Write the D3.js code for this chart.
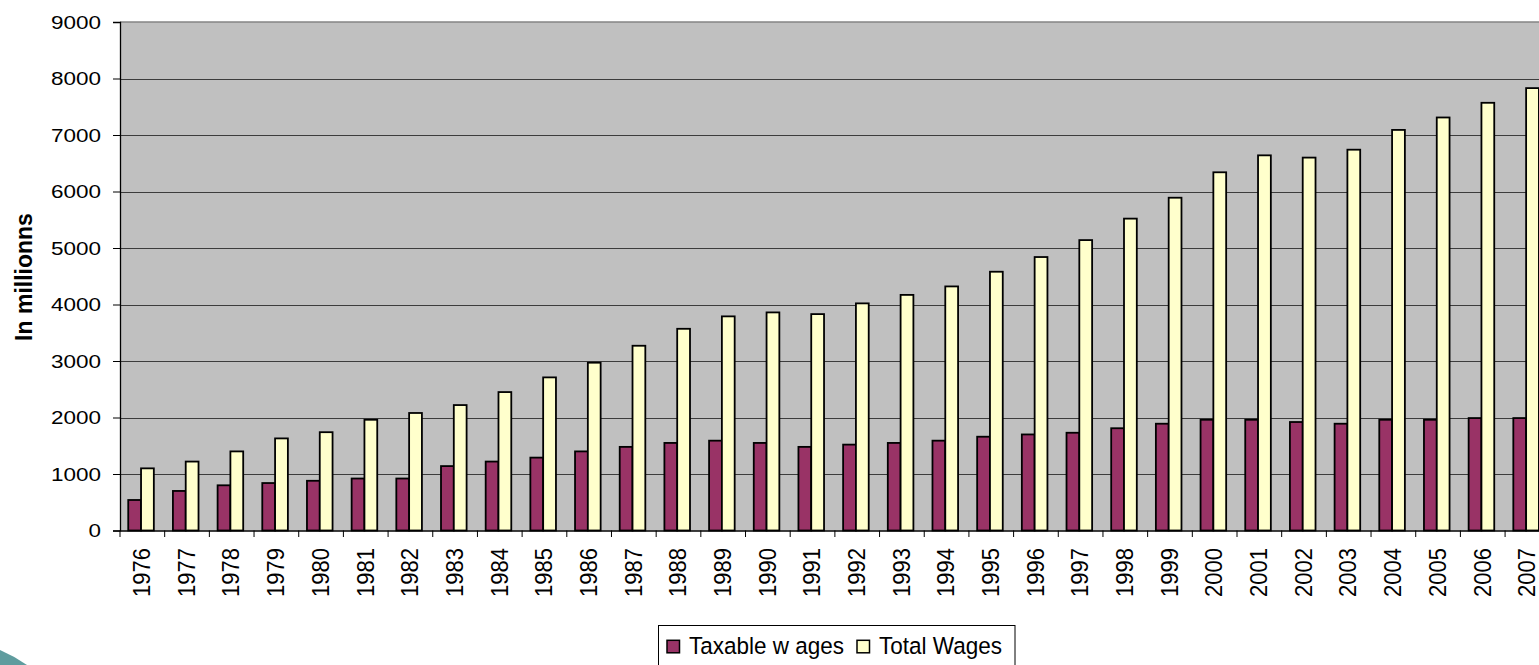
<!DOCTYPE html>
<html>
<head>
<meta charset="utf-8">
<script src="https://cdn.jsdelivr.net/npm/d3@7"></script>
<style>
  html, body { margin: 0; padding: 0; background: #ffffff; }
  svg { display: block; font-family: "Liberation Sans", Arial, sans-serif; }
</style>
</head>
<body>
<svg id="chart" width="1539" height="665"></svg>
<script>
const years = ["1976","1977","1978","1979","1980","1981","1982","1983","1984","1985","1986","1987","1988","1989","1990","1991","1992","1993","1994","1995","1996","1997","1998","1999","2000","2001","2002","2003","2004","2005","2006","2007"];
const taxableWages = [540, 700, 800, 840, 880, 920, 920, 1140, 1220, 1290, 1400, 1480, 1550, 1590, 1550, 1480, 1520, 1550, 1590, 1660, 1700, 1730, 1810, 1890, 1960, 1960, 1920, 1890, 1960, 1960, 1990, 1990];
const totalWages = [1100, 1220, 1400, 1630, 1740, 1960, 2080, 2220, 2450, 2710, 2970, 3270, 3570, 3790, 3860, 3830, 4020, 4170, 4320, 4580, 4840, 5140, 5520, 5890, 6340, 6640, 6600, 6740, 7090, 7310, 7570, 7830];
const seriesNames = ["Taxable w ages", "Total Wages"];
const seriesColors = ["#993366", "#FFFFCC"];
const yTicks = [0, 1000, 2000, 3000, 4000, 5000, 6000, 7000, 8000, 9000];
const yTitle = "In millionns";

const seriesValues = [taxableWages, totalWages];
const svg = d3.select("#chart");

const plotLeft = 120, plotTop = 22, plotBottom = 530.5;
const step = 44.68;
const plotRight = plotLeft + step * years.length;

const x = d3.scaleBand().domain(years).range([plotLeft, plotRight]).padding(0);
const y = d3.scaleLinear().domain([0, 9000]).range([plotBottom, plotTop]);
const pairWidth = 25.6;
const xInner = d3.scaleBand().domain(d3.range(seriesNames.length)).range([0, pairWidth]).padding(0);
const pairOffset = (x.bandwidth() - pairWidth) / 2 - 1.3;

// decoration at bottom-left
svg.append("path")
  .attr("d", "M0,650 Q14,656 27,665 L0,665 Z")
  .attr("fill", "#5f9c9e");

// plot background
svg.append("rect")
  .attr("x", plotLeft).attr("y", plotTop)
  .attr("width", plotRight - plotLeft).attr("height", plotBottom - plotTop)
  .attr("fill", "#C0C0C0");

// gridlines
svg.append("g").selectAll("line")
  .data(yTicks.filter(d => d > 0 && d < 9000))
  .join("line")
  .attr("x1", plotLeft).attr("x2", plotRight)
  .attr("y1", d => Math.round(y(d)) + 0.5).attr("y2", d => Math.round(y(d)) + 0.5)
  .attr("stroke", "#3c3c3c").attr("stroke-width", 1);

// top border
svg.append("line")
  .attr("x1", plotLeft).attr("x2", plotRight)
  .attr("y1", y(9000)).attr("y2", y(9000))
  .attr("stroke", "#858585").attr("stroke-width", 1.6);

// bars
const barGroups = svg.append("g").selectAll("g")
  .data(years)
  .join("g")
  .attr("transform", d => `translate(${x(d) + pairOffset},0)`);

barGroups.selectAll("rect")
  .data((d, i) => seriesValues.map((vals, s) => ({ s, v: vals[i] })))
  .join("rect")
  .attr("x", d => xInner(d.s))
  .attr("width", xInner.bandwidth())
  .attr("y", d => y(d.v))
  .attr("height", d => y(0) - y(d.v))
  .attr("fill", d => seriesColors[d.s])
  .attr("stroke", "#000")
  .attr("stroke-width", 1.8);

// y axis
const yAxis = d3.axisLeft(y).tickValues(yTicks).tickSize(7).tickPadding(12).tickFormat(d3.format("d"));
const gy = svg.append("g").attr("transform", `translate(${plotLeft},0)`).call(yAxis);
gy.select(".domain").attr("stroke", "#000").attr("stroke-width", 1.3);
gy.selectAll(".tick line").attr("stroke", "#000").attr("stroke-width", 1);
gy.selectAll(".tick text")
  .attr("font-family", "Liberation Sans, Arial, sans-serif")
  .attr("font-size", 17.7)
  .attr("fill", "#000")
  .attr("x", -19)
  .attr("dy", "0.36em")
  .attr("textLength", d => String(d).length * 12.5)
  .attr("lengthAdjust", "spacingAndGlyphs");

// x axis
const xAxis = d3.axisBottom(x).tickSize(0).tickFormat("");
const gx = svg.append("g").attr("transform", `translate(0,${plotBottom})`).call(xAxis);
gx.select(".domain").attr("stroke", "#000").attr("stroke-width", 1.3);
// category separator ticks
svg.append("g").selectAll("line")
  .data(d3.range(years.length + 1))
  .join("line")
  .attr("x1", i => plotLeft + i * x.step()).attr("x2", i => plotLeft + i * x.step())
  .attr("y1", plotBottom).attr("y2", plotBottom + 6.5)
  .attr("stroke", "#000").attr("stroke-width", 1);

// year labels
svg.append("g").selectAll("text")
  .data(years)
  .join("text")
  .attr("transform", d => `translate(${x(d) + x.bandwidth() / 2 - 0.8},548) rotate(-90) scale(1,1.08)`)
  .attr("text-anchor", "end")
  .attr("dy", "0.36em")
  .attr("font-size", 22)
  .attr("fill", "#000")
  .text(d => d);

// y title
svg.append("text")
  .attr("transform", "translate(32,277) rotate(-90)")
  .attr("text-anchor", "middle")
  .attr("font-size", 23)
  .attr("font-weight", "bold")
  .attr("fill", "#000")
  .text(yTitle);

// legend
const legend = svg.append("g");
legend.append("rect")
  .attr("x", 658.5).attr("y", 625.5).attr("width", 356.5).attr("height", 60)
  .attr("fill", "#fff").attr("stroke", "#000").attr("stroke-width", 1);
const legendItems = [
  { marker: 667, textX: 689, len: 155 },
  { marker: 857, textX: 879, len: 123 }
];
legend.selectAll("g.item")
  .data(seriesNames)
  .join("g").attr("class", "item")
  .each(function (name, i) {
    const g = d3.select(this);
    g.append("rect")
      .attr("x", legendItems[i].marker).attr("y", 640.3)
      .attr("width", 12.5).attr("height", 12.5)
      .attr("fill", seriesColors[i]).attr("stroke", "#000").attr("stroke-width", 1.5);
    g.append("text")
      .attr("x", legendItems[i].textX).attr("y", 654)
      .attr("font-size", 24.5)
      .attr("fill", "#000")
      .attr("textLength", legendItems[i].len)
      .attr("lengthAdjust", "spacingAndGlyphs")
      .text(name);
  });
</script>
</body>
</html>
